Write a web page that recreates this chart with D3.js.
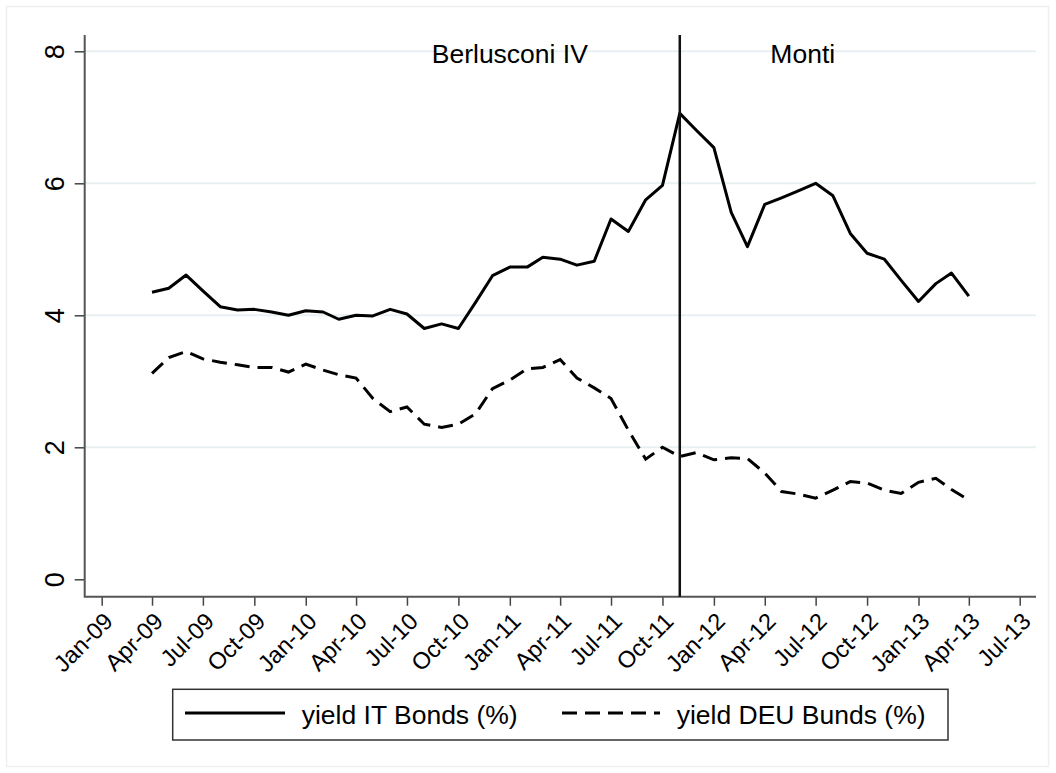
<!DOCTYPE html>
<html>
<head>
<meta charset="utf-8">
<script src="https://cdnjs.cloudflare.com/ajax/libs/d3/7.8.5/d3.min.js"></script>
<style>
  body { margin: 0; background: #fff; }
  text { font-family: "Liberation Sans", Arial, Helvetica, sans-serif; fill: #000; }
</style>
</head>
<body>
<div id="line-chart"></div>
<script>
var months = [
  "Apr-09","May-09","Jun-09","Jul-09","Aug-09","Sep-09","Oct-09","Nov-09","Dec-09",
  "Jan-10","Feb-10","Mar-10","Apr-10","May-10","Jun-10","Jul-10","Aug-10","Sep-10","Oct-10","Nov-10","Dec-10",
  "Jan-11","Feb-11","Mar-11","Apr-11","May-11","Jun-11","Jul-11","Aug-11","Sep-11","Oct-11","Nov-11","Dec-11",
  "Jan-12","Feb-12","Mar-12","Apr-12","May-12","Jun-12","Jul-12","Aug-12","Sep-12","Oct-12","Nov-12","Dec-12",
  "Jan-13","Feb-13","Mar-13","Apr-13"
];
var itYield = [
  4.35, 4.41, 4.61, 4.37, 4.13, 4.08, 4.09, 4.05, 4.00,
  4.07, 4.05, 3.94, 4.00, 3.99, 4.09, 4.02, 3.80, 3.87, 3.80, 4.20, 4.60,
  4.73, 4.73, 4.88, 4.85, 4.76, 4.82, 5.46, 5.27, 5.75, 5.97, 7.06, 6.80,
  6.54, 5.56, 5.04, 5.68, 5.78, 5.89, 6.00, 5.81, 5.24, 4.94, 4.85, 4.53,
  4.21, 4.48, 4.64, 4.29
];
var deuYield = [
  3.12, 3.36, 3.45, 3.34, 3.29, 3.25, 3.21, 3.21, 3.14,
  3.26, 3.17, 3.10, 3.05, 2.74, 2.54, 2.61, 2.35, 2.30, 2.35, 2.51, 2.89,
  3.02, 3.19, 3.21, 3.33, 3.05, 2.90, 2.74, 2.26, 1.82, 2.00, 1.86, 1.92,
  1.81, 1.84, 1.83, 1.61, 1.33, 1.29, 1.23, 1.35, 1.48, 1.46, 1.35, 1.30,
  1.47, 1.53, 1.36, 1.20
];
var xTickLabels = [
  "Jan-09","Apr-09","Jul-09","Oct-09","Jan-10","Apr-10","Jul-10","Oct-10",
  "Jan-11","Apr-11","Jul-11","Oct-11","Jan-12","Apr-12","Jul-12","Oct-12",
  "Jan-13","Apr-13","Jul-13"
];
var yTicks = [0, 2, 4, 6, 8];
var seriesNames = ["yield IT Bonds (%)", "yield DEU Bunds (%)"];
var changeMonth = "Nov-11";
var cabinets = [
  { name: "Berlusconi IV", date: "01-Jan-11" },
  { name: "Monti", date: "08-Jun-12" }
];

var width = 1056,
    height = 773;
var parseMonth = d3.timeParse("%b-%y"),
    parseDay = d3.timeParse("%d-%b-%y");

var svg = d3.select("#line-chart")
  .append("svg")
    .attr("width", width)
    .attr("height", height);

// plot box (Stata-like layout)
var box = { left: 84.7, right: 1036, top: 35, bottom: 596.7 };

var x = d3.scaleTime()
    .domain([parseMonth("Jan-09"), parseMonth("Jul-13")])
    .range([101.7, 1019.7]);
var y = d3.scaleLinear()
    .domain([0, 8])
    .range([579.3, 51.3]);

// faint outer frame
svg.append("rect")
    .attr("x", 6.5).attr("y", 6.5)
    .attr("width", 1042).attr("height", 760)
    .attr("fill", "none")
    .attr("stroke", "#eef0f0")
    .attr("stroke-width", 1.5);

// gridlines
svg.append("g")
  .selectAll("line")
  .data(yTicks.filter(function(d) { return d > 0; }))
  .enter().append("line")
    .attr("x1", box.left).attr("x2", box.right)
    .attr("y1", function(d) { return y(d); })
    .attr("y2", function(d) { return y(d); })
    .attr("stroke", "#e8f0f2")
    .attr("stroke-width", 2);

// y axis
var gy = svg.append("g")
    .attr("transform", "translate(" + box.left + ",0)")
    .call(d3.axisLeft(y).tickValues(yTicks).tickSize(10).tickFormat(d3.format("d")));
gy.select(".domain").remove();
gy.selectAll(".tick line").attr("stroke", "#444").attr("stroke-width", 1.5);
gy.selectAll(".tick text")
    .attr("x", null).attr("dy", null)
    .attr("text-anchor", "middle")
    .attr("transform", "translate(-21,0) rotate(-90)")
    .style("font-size", "27px")
    .attr("fill", "#000");

// x axis
var gx = svg.append("g")
    .attr("transform", "translate(0," + box.bottom + ")")
    .call(d3.axisBottom(x)
      .tickValues(xTickLabels.map(parseMonth))
      .tickSize(9)
      .tickFormat(d3.timeFormat("%b-%y")));
gx.select(".domain").remove();
gx.selectAll(".tick line").attr("stroke", "#444").attr("stroke-width", 1.5);
gx.selectAll(".tick text")
    .attr("y", null).attr("dy", null)
    .attr("text-anchor", "end")
    .attr("transform", "translate(12,26) rotate(-45)")
    .style("font-size", "23.5px")
    .attr("fill", "#000");

// axis lines
svg.append("path")
    .attr("d", "M" + box.left + "," + box.top + "V" + box.bottom + "H" + box.right)
    .attr("fill", "none")
    .attr("stroke", "#555")
    .attr("stroke-width", 2);

var line = d3.line()
    .x(function(d) { return x(d.date); })
    .y(function(d) { return y(d.value); });

var itData = months.map(function(m, i) { return { date: parseMonth(m), value: itYield[i] }; });
var deuData = months.map(function(m, i) { return { date: parseMonth(m), value: deuYield[i] }; });

svg.append("path")
    .datum(itData)
    .attr("d", line)
    .attr("fill", "none")
    .attr("stroke", "#000")
    .attr("stroke-width", 3)
    .attr("stroke-linejoin", "round");

svg.append("path")
    .datum(deuData)
    .attr("d", line)
    .attr("fill", "none")
    .attr("stroke", "#000")
    .attr("stroke-width", 3)
    .attr("stroke-dasharray", "15,8");

// government change
svg.append("line")
    .attr("x1", x(parseMonth(changeMonth))).attr("x2", x(parseMonth(changeMonth)))
    .attr("y1", box.top).attr("y2", box.bottom)
    .attr("stroke", "#111")
    .attr("stroke-width", 2.5);

svg.selectAll(".cabinet")
  .data(cabinets)
  .enter().append("text")
    .attr("class", "cabinet")
    .attr("x", function(d) { return x(parseDay(d.date)); })
    .attr("y", y(7.82))
    .attr("text-anchor", "middle")
    .style("font-size", "26.5px")
    .text(function(d) { return d.name; });

// legend
var legend = svg.append("g");
legend.append("rect")
    .attr("x", 172.7).attr("y", 689.3)
    .attr("width", 775.3).attr("height", 50.7)
    .attr("fill", "none")
    .attr("stroke", "#333")
    .attr("stroke-width", 1.5);

var legendItems = [
  { name: seriesNames[0], x0: 185, x1: 285, tx: 301.7, dash: null },
  { name: seriesNames[1], x0: 562, x1: 660, tx: 676.7, dash: "15,8" }
];
var li = legend.selectAll(".item")
  .data(legendItems)
  .enter().append("g")
    .attr("class", "item");
li.append("line")
    .attr("x1", function(d) { return d.x0; })
    .attr("x2", function(d) { return d.x1; })
    .attr("y1", 713).attr("y2", 713)
    .attr("stroke", "#000")
    .attr("stroke-width", 3)
    .attr("stroke-dasharray", function(d) { return d.dash; });
li.append("text")
    .attr("x", function(d) { return d.tx; })
    .attr("y", 723.5)
    .style("font-size", "26.5px")
    .text(function(d) { return d.name; });
</script>
</body>
</html>
